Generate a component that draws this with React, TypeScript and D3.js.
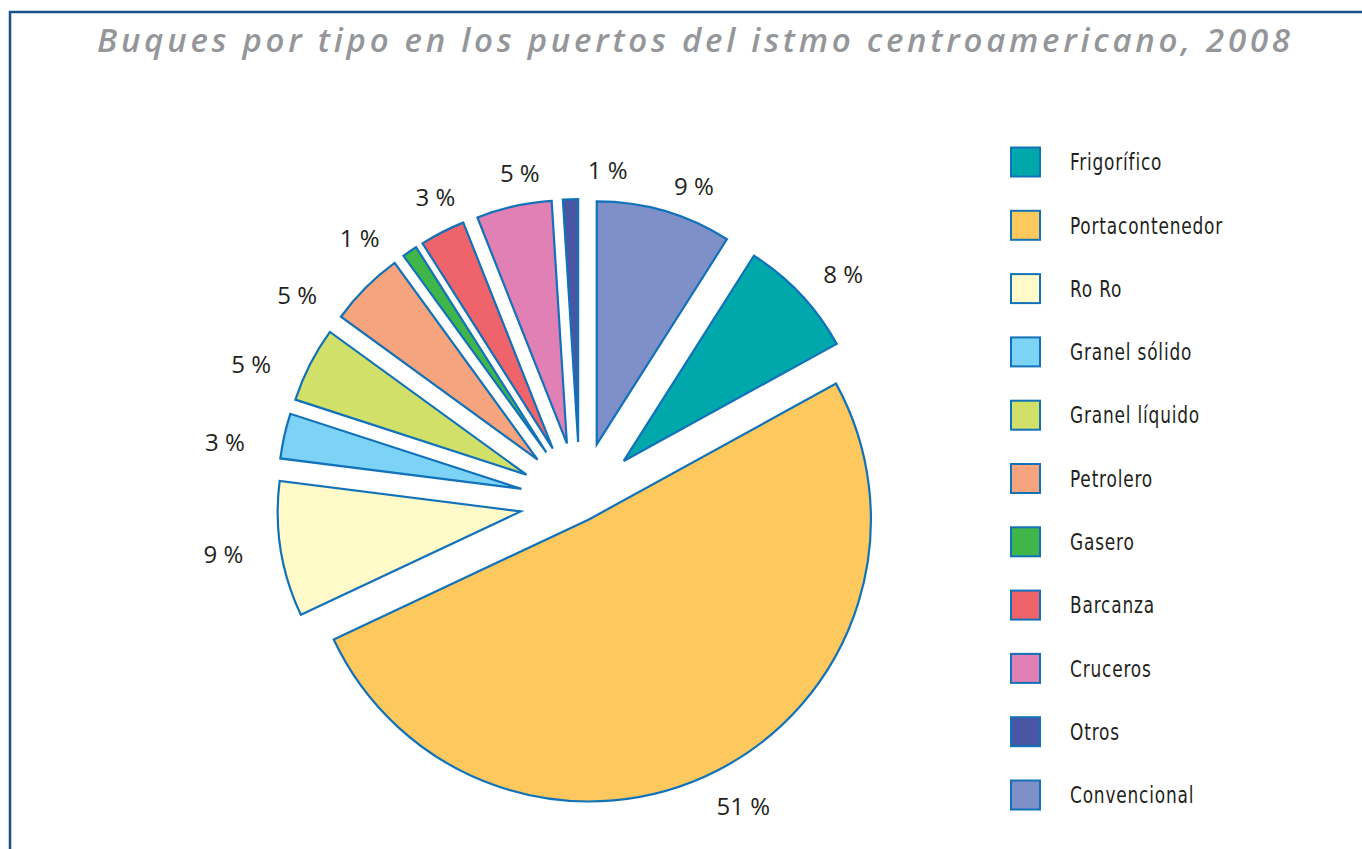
import React, { useRef, useEffect } from "react";
import * as d3 from "d3";

const title = "Buques por tipo en los puertos del istmo centroamericano, 2008";

// legend order (pie runs clockwise from Frigorífico, Convencional ends at 12 o'clock)
const categories = [
  "Frigorífico",
  "Portacontenedor",
  "Ro Ro",
  "Granel sólido",
  "Granel líquido",
  "Petrolero",
  "Gasero",
  "Barcanza",
  "Cruceros",
  "Otros",
  "Convencional",
];
const shares = [8, 51, 9, 3, 5, 5, 1, 3, 5, 1, 9];
const colors = [
  "#00a8ac",
  "#fdc85d",
  "#fffac8",
  "#7dd3f6",
  "#d1e068",
  "#f6a47d",
  "#3fb54a",
  "#ef636a",
  "#e080b4",
  "#4a55a4",
  "#7f8fc8",
];
const highlighted = "Portacontenedor";

const W = 1362;
const H = 849;

function App() {
  const svgRef = useRef(null);

  useEffect(() => {
    const svg = d3.select(svgRef.current);
    svg.selectAll("*").remove();

    const cx = 580;
    const cy = 502;
    const rSmall = 243;
    const rBig = 282;
    const offSmall = 60;
    const offBig = 19.6;
    const stroke = "#1172ba";

    const data = categories.map((c, i) => ({ name: c, value: shares[i], color: colors[i] }));
    const total = d3.sum(shares);
    const start = (2 * Math.PI * shares[shares.length - 1]) / total;

    const pie = d3
      .pie<any>()
      .sort(null)
      .value((d) => d.value)
      .startAngle(start)
      .endAngle(start + 2 * Math.PI);
    const arcs = pie(data);

    // frame
    svg
      .append("path")
      .attr("d", `M10,${H} L10,12 L${W},12`)
      .attr("fill", "none")
      .attr("stroke", "#1d4f8a")
      .attr("stroke-width", 2.5);

    svg
      .append("text")
      .attr("x", 97)
      .attr("y", 52)
      .attr("textLength", 1193)
      .attr("lengthAdjust", "spacing")
      .attr("font-family", "'Open Sans', 'DejaVu Sans', sans-serif")
      .attr("font-style", "italic")
      .attr("font-weight", 600)
      .attr("font-size", 33)
      .attr("fill", "#95969a")
      .text(title);

    const g = svg.append("g").attr("transform", `translate(${cx},${cy})`);

    arcs.forEach((a) => {
      const big = a.data.name === highlighted;
      const mid = (a.startAngle + a.endAngle) / 2;
      const off = big ? offBig : offSmall;
      const arc = d3.arc<any>().innerRadius(0).outerRadius(big ? rBig : rSmall);
      g.append("path")
        .attr("d", arc(a))
        .attr("transform", `translate(${off * Math.sin(mid)},${-off * Math.cos(mid)})`)
        .attr("fill", a.data.color)
        .attr("stroke", stroke)
        .attr("stroke-width", 2.2)
        .attr("stroke-linejoin", "miter");
    });

    // label angles, spread so neighbours keep a minimum angle apart
    const labels = arcs.map((a) => {
      const big = a.data.name === highlighted;
      let m = (a.startAngle + a.endAngle) / 2;
      if (m > Math.PI) m -= 2 * Math.PI;
      const r = big ? offBig + rBig : offSmall + rSmall;
      return {
        text: `${a.data.value} %`,
        angle: m,
        rx: r + 58, // labels are wider than tall
        ry: big ? r + 40 : r + 30,
      };
    });
    const sorted = labels.slice().sort((p, q) => p.angle - q.angle);
    const minSep = (14 * Math.PI) / 180;
    for (let it = 0; it < 300; it++) {
      for (let i = 1; i < sorted.length; i++) {
        const gap = sorted[i].angle - sorted[i - 1].angle;
        if (gap < minSep) {
          const push = (minSep - gap) / 2;
          sorted[i].angle += push;
          sorted[i - 1].angle -= push;
        }
      }
    }

    g.selectAll("text.pct")
      .data(labels)
      .enter()
      .append("text")
      .attr("class", "pct")
      .attr("x", (d) => d.rx * Math.sin(d.angle))
      .attr("y", (d) => -d.ry * Math.cos(d.angle))
      .attr("dy", "0.36em")
      .attr("text-anchor", "middle")
      .attr("font-family", "'Open Sans', 'Noto Sans', sans-serif")
      .attr("font-size", 24)
      .attr("fill", "#231f20")
      .text((d) => d.text);

    // legend
    const ly = d3
      .scalePoint<string>()
      .domain(categories)
      .range([162, 795]);
    const leg = svg
      .selectAll("g.leg")
      .data(data)
      .enter()
      .append("g")
      .attr("class", "leg")
      .attr("transform", (d) => `translate(1011,${ly(d.name)})`);
    leg
      .append("rect")
      .attr("x", 0)
      .attr("y", -14.5)
      .attr("width", 29)
      .attr("height", 29)
      .attr("fill", (d) => d.color)
      .attr("stroke", stroke)
      .attr("stroke-width", 2);
    leg
      .append("text")
      .attr("transform", "translate(59,0) scale(0.82,1)")
      .attr("dy", "0.36em")
      .attr("font-family", "'DejaVu Sans Condensed', 'Liberation Sans Narrow', sans-serif")
      .attr("font-size", 23)
      .attr("letter-spacing", 1)
      .attr("fill", "#231f20")
      .text((d) => d.name);
  }, []);

  return (
    <svg
      ref={svgRef}
      width={W}
      height={H}
      style={{ position: "absolute", left: 0, top: 0, background: "#fff" }}
    ></svg>
  );
}

export default App;
